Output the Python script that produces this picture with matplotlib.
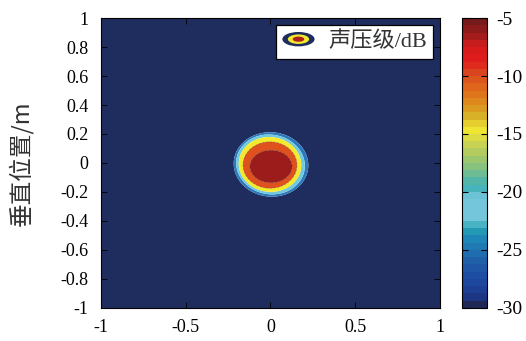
import numpy as np
import matplotlib
matplotlib.use("Agg")
import matplotlib.pyplot as plt
from matplotlib.colors import LinearSegmentedColormap, Normalize
from matplotlib.cm import ScalarMappable
from matplotlib.patches import Ellipse, Patch
from matplotlib.legend_handler import HandlerBase

plt.rcParams['axes.unicode_minus'] = False
plt.rcParams['font.family'] = ['Liberation Serif', 'Noto Sans CJK SC']

# Sound-pressure level contours (dB): each ring is the boundary of one level
ring_levels = [-25, -20, -15, -10, -5]
ring_cx = [0.003, 0.000, -0.003, -0.003, 0.003]
ring_cy = [-0.010, -0.010, -0.010, -0.014, -0.024]
ring_rx = [0.218, 0.199, 0.183, 0.159, 0.124]
ring_ry = [0.224, 0.210, 0.190, 0.160, 0.112]
ring_tilt = [35, 35, 25, 15, 0]  # degrees

fill_levels = [-30, -25, -20, -15, -10, -5, 0]
fill_colors = ['#1f2d5e', '#2b78bd', '#72c9de', '#f4e92c', '#df521d', '#9c1c1c']

x_ticks = [-1, -0.5, 0, 0.5, 1]
x_labels = ['-1', '-0.5', '0', '0.5', '1']
y_ticks = [-1, -0.8, -0.6, -0.4, -0.2, 0, 0.2, 0.4, 0.6, 0.8, 1]
y_labels = ['-1', '-0.8', '-0.6', '-0.4', '-0.2', '0', '0.2', '0.4', '0.6', '0.8', '1']
cbar_ticks = [-30, -25, -20, -15, -10, -5]
cbar_labels = ['-30', '-25', '-20', '-15', '-10', '-5']

# Colour scale of the bar (value in dB, colour)
cmap_values = [-30, -29.2, -27.7, -26, -24.3, -23.3, -22.5, -20.5, -19.6, -18, -16.5, -15.5,
               -14.5, -13.5, -12.3, -11, -9.6, -8.5, -7.2, -6.2, -5]
cmap_colors = ['#1e2756', '#1b3a8e', '#1e4aa2', '#2062aa', '#1e84b8', '#27a2b3', '#74c6da',
               '#74c6da', '#3eb0b8', '#82c184', '#b4cc5e', '#d6d84c', '#f2e830', '#d9b72a',
               '#dc8e1c', '#e06a1a', '#d84a1e', '#e21c1c', '#d41c1c', '#a01c1c', '#761a1c']

# Field built from the rings
x = np.linspace(-1, 1, 1001)
y = np.linspace(-1, 1, 1001)
X, Y = np.meshgrid(x, y)
count = np.zeros_like(X)
for cx, cy, rx, ry, t in zip(ring_cx, ring_cy, ring_rx, ring_ry, ring_tilt):
    a = np.deg2rad(t)
    u = (X - cx) * np.cos(a) + (Y - cy) * np.sin(a)
    v = -(X - cx) * np.sin(a) + (Y - cy) * np.cos(a)
    s = np.sqrt((u / rx) ** 2 + (v / ry) ** 2)
    count += 1.0 / (1.0 + np.exp(-np.clip((1.0 - s) / 0.01, -60, 60)))
step = ring_levels[1] - ring_levels[0]
Z = ring_levels[0] - step / 2 + step * count

fig = plt.figure(figsize=(5.26, 3.41), dpi=100)
ax = fig.add_axes([0.192, 0.0968, 0.6445, 0.8504])
ax.contourf(X, Y, Z, levels=fill_levels, colors=fill_colors, antialiased=True)
ax.contour(X, Y, Z, levels=ring_levels[-2:], colors='k', linewidths=0.5, alpha=0.3)
ax.set_xlim(-1, 1)
ax.set_ylim(-1, 1)
ax.set_xticks(x_ticks)
ax.set_xticklabels(x_labels)
ax.set_yticks(y_ticks)
ax.set_yticklabels(y_labels)
ax.tick_params(direction='in', length=4, width=0.6, labelsize=13,
               top=True, right=True, color='k')
ax.tick_params(axis='y', pad=9)
ax.tick_params(axis='x', pad=8)
for sp in ax.spines.values():
    sp.set_linewidth(0.8)
ax.set_ylabel('垂直位置/m', fontsize=17, family=['Noto Sans CJK SC'],
              fontweight='light', color='#333333')
ax.yaxis.set_label_coords(-0.2, 0.5)


class RingHandler(HandlerBase):
    def create_artists(self, legend, orig_handle, xdescent, ydescent,
                       width, height, fontsize, trans):
        cx = width / 2 - xdescent
        cy = height / 2 - ydescent
        arts = []
        for frac, c in zip([1.0, 0.66, 0.36], ['#1f2d5e', '#f4e92c', '#b0201c']):
            arts.append(Ellipse((cx, cy), width * frac, height * frac,
                                facecolor=c, edgecolor='none', transform=trans))
        return arts


leg = ax.legend([Patch()], ['声压级/dB'], handler_map={Patch: RingHandler()},
                loc='upper right', frameon=True, fancybox=False,
                edgecolor='k', framealpha=1, handlelength=1.45, handleheight=0.62,
                handletextpad=0.6, borderpad=0.3, borderaxespad=0.3,
                prop={'family': ['Liberation Serif', 'Noto Sans CJK SC'], 'size': 16,
                      'weight': 'light'})
leg.get_frame().set_linewidth(0.9)
for t in leg.get_texts():
    t.set_color('#333333')

# Colour bar
cmap = LinearSegmentedColormap.from_list(
    'spl', [((v - cmap_values[0]) / (cmap_values[-1] - cmap_values[0]), c)
            for v, c in zip(cmap_values, cmap_colors)], N=40)
cax = fig.add_axes([0.878, 0.0968, 0.0475, 0.8504])
sm = ScalarMappable(norm=Normalize(-30, -5), cmap=cmap)
cb = fig.colorbar(sm, cax=cax, ticks=cbar_ticks)
cb.ax.set_yticklabels(cbar_labels)
cb.outline.set_linewidth(0.8)
cax.tick_params(direction='in', length=4, width=0.8, left=True, right=True,
                labelsize=14, pad=7)

fig.savefig('out.png', dpi=100)
